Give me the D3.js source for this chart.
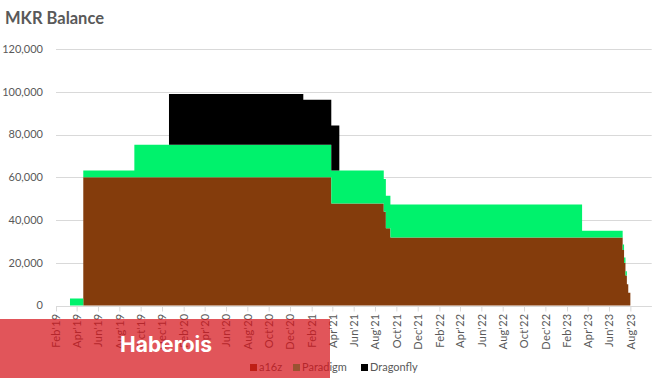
<!DOCTYPE html>
<html>
<head>
<meta charset="utf-8">
<script src="https://cdn.jsdelivr.net/npm/d3@7"></script>
<style>
  html, body { margin: 0; padding: 0; background: #fff; }
  svg { display: block; font-family: Lato, "Open Sans", sans-serif; }
</style>
</head>
<body>
<div id="chart"></div>
<script>
// dates where a holding changes (step after)
const dates = [
  '2019-02-01', '2019-03-13', '2019-04-20', '2019-09-13', '2019-12-21',
  '2021-01-08', '2021-03-29', '2021-04-21', '2021-08-26', '2021-09-01',
  '2021-09-14', '2023-03-16', '2023-07-10', '2023-07-14', '2023-07-18',
  '2023-07-22', '2023-07-26', '2023-08-01'
];
const a16z = [
  0, 0, 60000, 60000, 60000,
  60000, 47700, 47700, 43900, 36100,
  31800, 31800, 26000, 20000, 14000,
  10000, 6000, 0
];
const paradigm = [
  0, 3300, 3200, 15200, 15200,
  15200, 15500, 15500, 15300, 15200,
  15400, 3200, 2500, 2400, 2000,
  0, 0, 0
];
const dragonfly = [
  0, 0, 0, 0, 23800,
  21100, 21000, 0, 0, 0,
  0, 0, 0, 0, 0,
  0, 0, 0
];
const seriesNames = ['a16z', 'Paradigm', 'Dragonfly'];
const seriesColors = ['#843C0C', '#00F26C', '#000000'];
const yTicks = [0, 20000, 40000, 60000, 80000, 100000, 120000];

const W = 658, H = 378;
const plot = { left: 56, right: 651.7, top: 49, bottom: 305.5 };

const parse = d3.timeParse('%Y-%m-%d');
const rows = dates.map((d, i) => ({
  date: parse(d), a16z: a16z[i], Paradigm: paradigm[i], Dragonfly: dragonfly[i]
}));

const svg = d3.select('#chart').append('svg')
  .attr('width', W).attr('height', H);

const x = d3.scaleTime()
  .domain([new Date(2019, 1, 1), new Date(2023, 9, 1)])
  .range([plot.left, plot.right]);
const y = d3.scaleLinear().domain([0, 120000]).range([plot.bottom, plot.top]);

// title
svg.append('text')
  .attr('x', 5).attr('y', 24)
  .attr('font-size', 16.5).attr('font-weight', 700)
  .attr('fill', '#595959')
  .text('MKR Balance');

// gridlines + y labels
svg.append('g').selectAll('line').data(yTicks).join('line')
  .attr('x1', plot.left).attr('x2', plot.right)
  .attr('y1', d => Math.round(y(d)) + 0.5).attr('y2', d => Math.round(y(d)) + 0.5)
  .attr('stroke', '#d9d9d9');
svg.append('g').selectAll('text').data(yTicks).join('text')
  .attr('x', 43).attr('y', d => y(d)).attr('dy', '0.35em')
  .attr('text-anchor', 'end').attr('font-size', 11).attr('fill', '#595959')
  .text(d3.format(','));

// stacked step areas
const stack = d3.stack().keys(seriesNames);
const layers = stack(rows);
const area = d3.area()
  .x(d => x(d.data.date))
  .y0(d => y(d[0]))
  .y1(d => y(d[1]))
  .curve(d3.curveStepAfter);
svg.append('g').selectAll('path').data(layers).join('path')
  .attr('d', area)
  .attr('fill', (d, i) => seriesColors[i]);

// x axis
const xTicks = d3.timeMonth.range(new Date(2019, 1, 1), new Date(2023, 7, 2), 2);
const xAxis = svg.append('g')
  .attr('transform', `translate(0,${Math.round(plot.bottom) + 0.5})`)
  .call(d3.axisBottom(x).tickValues(xTicks).tickFormat(d3.timeFormat("%b'%y")).tickSize(5).tickSizeOuter(0));
xAxis.select('.domain').attr('stroke', '#d9d9d9').attr('d', `M${plot.left},0H${plot.right}`);
xAxis.selectAll('.tick line').attr('stroke', '#d9d9d9');
xAxis.selectAll('.tick text')
  .attr('transform', 'rotate(-90)')
  .attr('text-anchor', 'end')
  .attr('x', -7).attr('y', 0).attr('dy', '0.35em')
  .attr('font-size', 11).attr('font-family', 'Lato, sans-serif')
  .attr('letter-spacing', 0.3)
  .attr('fill', '#595959');

// legend
const legendX = [250, 293, 361];
const legend = svg.append('g').selectAll('g').data(seriesNames).join('g')
  .attr('transform', (d, i) => `translate(${legendX[i]},367.5)`);
legend.append('rect')
  .attr('x', 0).attr('y', -3.5).attr('width', 7).attr('height', 7)
  .attr('fill', (d, i) => seriesColors[i]);
legend.append('text')
  .attr('x', 9).attr('dy', '0.35em')
  .attr('font-size', 11).attr('fill', '#595959')
  .text(d => d);

// watermark banner
svg.append('rect')
  .attr('x', 0).attr('y', 319).attr('width', 330).attr('height', H - 319)
  .attr('fill', 'rgb(213,20,26)').attr('fill-opacity', 0.72);
svg.append('text')
  .attr('x', 166).attr('y', 352)
  .attr('text-anchor', 'middle')
  .attr('font-family', 'Inter, sans-serif').attr('font-weight', 700).attr('font-size', 21)
  .attr('fill', '#fff')
  .text('Haberois');
</script>
</body>
</html>
